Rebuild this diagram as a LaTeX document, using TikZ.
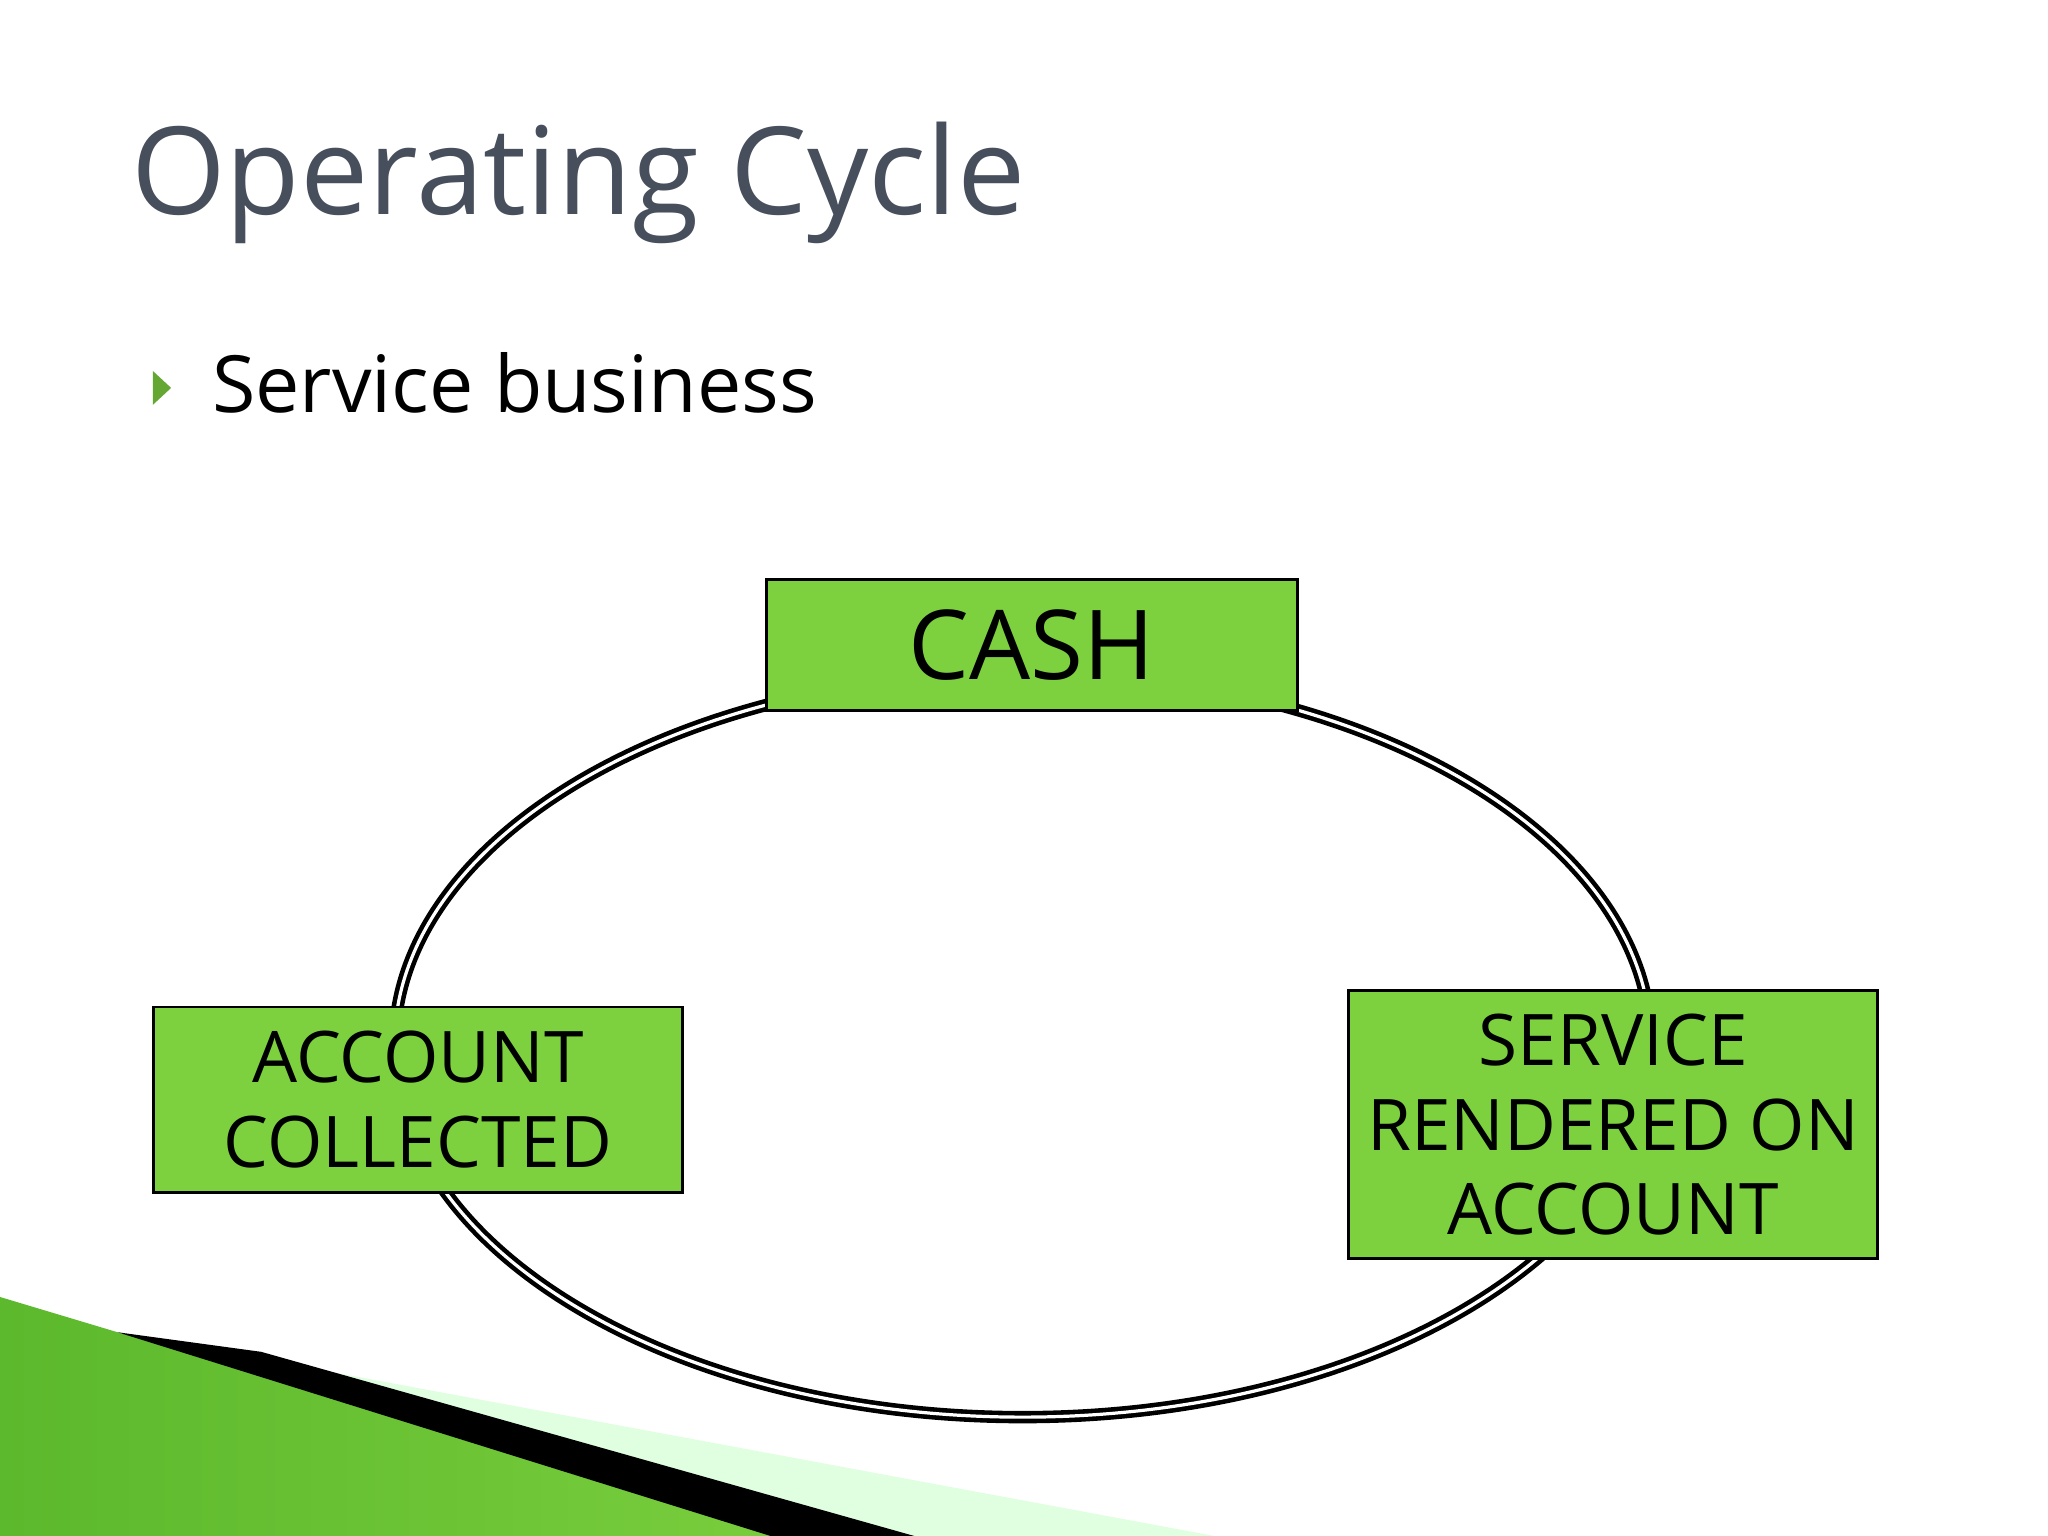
\documentclass[tikz,border=0pt]{standalone}
\usepackage{fontspec}
\setmainfont{Open Sans}
\usepackage{xcolor}
\usetikzlibrary{positioning}
\definecolor{boxgreen}{HTML}{7DD13F}
\definecolor{titlegrey}{HTML}{474E5C}
\definecolor{swoosh}{HTML}{5CB82C}
\begin{document}
\begin{tikzpicture}[
    y = -.01cm,
    x = .01cm,
    stepf/.style = {
      rectangle,
      draw=black,
      fill=boxgreen,
      semithick,
      align=center,
      inner sep=0pt,
      font=\fontsize{15.5}{18.5}\selectfont
    }
  ]
    \useasboundingbox (0,0) rectangle (1568,1176);
    % background swoosh
    \shade[left color=swoosh, right color=boxgreen] (0,993) -- (90,1020) -- (700,1176) -- (0,1176) -- cycle;
    \fill[green!12] (90,1020) -- (930,1176) -- (700,1176) -- cycle;
    \fill[black] (90,1020) -- (200,1035) -- (700,1176) -- (590,1176) -- cycle;
    % title and bullet
    \node[anchor=west, text=titlegrey, font=\fontsize{26.5}{32}\selectfont] (title) at (88,140) {Operating Cycle};
    \fill[boxgreen!80!black] (117,284) -- (131,297) -- (117,310) -- cycle;
    \node[anchor=west, font=\fontsize{17.2}{21}\selectfont] (sub) at (150,293) {Service business};
    % cycle
    \draw[double=white, double distance=0.7pt, line width=1pt] (783,800) ellipse (481 and 285);
    \node[stepf, minimum width=4.06cm, minimum height=1cm, font=\fontsize{21}{25}\selectfont] (cash) at (790,494) {CASH};
    \node[stepf, minimum width=4.05cm, minimum height=1.42cm] (coll) at (320,842) {ACCOUNT\\COLLECTED};
    \node[stepf, minimum width=4.05cm, minimum height=2.05cm] (serv) at (1235,861) {SERVICE\\RENDERED ON\\ACCOUNT};
  \end{tikzpicture}
\end{document}
